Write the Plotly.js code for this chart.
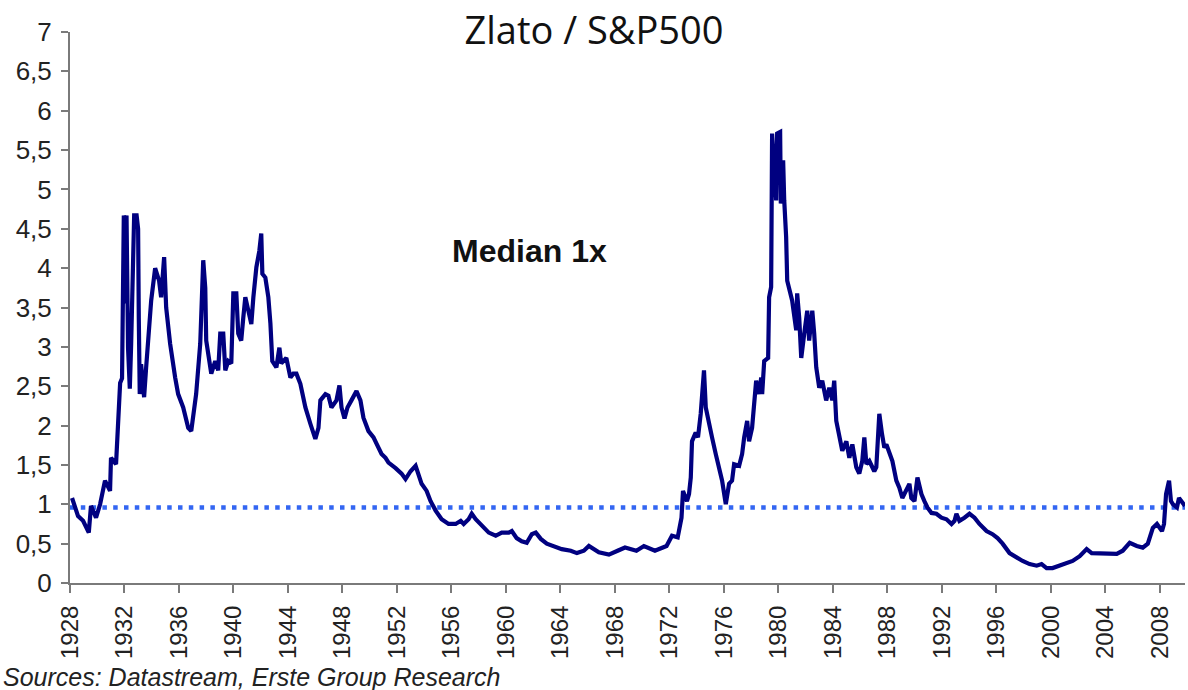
<!DOCTYPE html>
<html>
<head>
<meta charset="utf-8">
<script src="https://cdn.plot.ly/plotly-3.0.1.min.js"></script>
<style>
html,body{margin:0;padding:0;background:#fff;}
#chart{width:1188px;height:690px;}
</style>
</head>
<body>
<div id="chart"></div>
<script>
// Gold / S&P500 ratio
const years = [
1928.15,1928.59,1928.96,1929.38,1929.54,1929.91,1930.21,1930.57,1930.94,1931.01,
1931.38,1931.53,1931.68,1931.82,1931.95,1932.04,1932.15,1932.26,1932.39,1932.49,
1932.71,1932.89,1933.0,1933.05,1933.12,1933.22,1933.44,1933.59,1933.74,1933.96,
1934.25,1934.54,1934.69,1934.91,1935.06,1935.35,1935.72,1935.94,1936.31,1936.68,
1936.9,1937.12,1937.26,1937.56,1937.63,1937.78,1937.93,1938.0,1938.37,1938.66,
1938.88,1939.03,1939.25,1939.4,1939.62,1939.84,1939.99,1940.21,1940.35,1940.57,
1940.72,1940.87,1941.09,1941.31,1941.46,1941.68,1941.9,1942.04,1942.12,1942.34,
1942.56,1942.71,1942.85,1943.15,1943.37,1943.51,1943.88,1944.18,1944.4,1944.62,
1944.91,1945.28,1945.65,1946.01,1946.24,1946.38,1946.75,1946.97,1947.19,1947.56,
1947.78,1947.93,1948.15,1948.37,1948.66,1949.03,1949.32,1949.54,1949.91,1950.28,
1950.5,1950.87,1951.16,1951.38,1951.9,1952.34,1952.63,1953.0,1953.37,1953.59,
1953.81,1954.18,1954.47,1954.84,1955.28,1955.79,1956.31,1956.68,1956.9,1957.26,
1957.49,1957.78,1958.22,1958.74,1959.25,1959.69,1960.21,1960.43,1960.79,1961.16,
1961.53,1961.9,1962.19,1962.56,1963.0,1963.66,1964.1,1964.76,1965.21,1965.72,
1966.09,1966.82,1967.56,1968.2,1968.74,1969.58,1970.13,1970.94,1971.79,1972.19,
1972.61,1972.89,1973.0,1973.29,1973.44,1973.57,1973.66,1973.93,1974.1,1974.3,
1974.54,1974.67,1974.91,1975.13,1975.4,1975.65,1975.87,1976.14,1976.38,1976.6,
1976.75,1977.12,1977.34,1977.49,1977.71,1977.85,1978.07,1978.37,1978.59,1978.74,
1978.81,1978.96,1979.25,1979.32,1979.47,1979.54,1979.69,1979.84,1979.91,1980.13,
1980.18,1980.35,1980.43,1980.57,1980.65,1980.79,1981.01,1981.31,1981.38,1981.53,
1981.68,1981.9,1982.12,1982.26,1982.49,1982.63,1982.78,1983.0,1983.22,1983.51,
1983.74,1983.96,1984.1,1984.25,1984.47,1984.69,1984.99,1985.21,1985.43,1985.72,
1985.94,1986.16,1986.31,1986.46,1986.68,1987.04,1987.19,1987.41,1987.61,1987.78,
1987.93,1988.15,1988.37,1988.66,1988.88,1989.1,1989.4,1989.62,1989.76,1989.99,
1990.21,1990.5,1990.72,1990.94,1991.24,1991.6,1991.97,1992.34,1992.71,1992.93,
1993.07,1993.29,1993.66,1994.03,1994.4,1994.76,1995.28,1995.72,1996.09,1996.46,
1996.97,1997.49,1997.93,1998.44,1998.96,1999.32,1999.69,2000.13,2000.65,2001.16,
2001.6,2002.12,2002.63,2003.0,2003.37,2003.81,2004.32,2004.84,2005.28,2005.79,
2006.31,2006.75,2007.12,2007.49,2007.79,2008.16,2008.31,2008.46,2008.68,2008.82,
2008.97,2009.26,2009.41,2009.71,2009.85
];
const ratio = [
1.08,0.85,0.79,0.64,0.98,0.83,1.0,1.3,1.17,1.59,
1.51,2.15,2.54,2.6,4.67,3.55,4.67,2.99,2.47,3.04,
4.67,4.67,4.5,3.37,2.4,2.78,2.36,2.74,3.12,3.59,
4.0,3.84,3.63,4.14,3.5,3.04,2.61,2.4,2.23,1.97,
1.93,2.28,2.4,3.04,3.33,4.1,3.75,3.08,2.66,2.82,
2.7,3.17,3.17,2.7,2.82,2.79,3.68,3.68,3.17,3.08,
3.37,3.63,3.46,3.29,3.63,4.01,4.22,4.44,3.93,3.88,
3.63,3.3,2.82,2.74,2.99,2.79,2.86,2.61,2.66,2.66,
2.53,2.23,2.02,1.83,1.97,2.32,2.4,2.38,2.23,2.32,
2.51,2.23,2.09,2.23,2.32,2.44,2.32,2.1,1.93,1.85,
1.77,1.64,1.59,1.53,1.46,1.39,1.32,1.42,1.49,1.39,
1.26,1.17,1.04,0.92,0.81,0.75,0.75,0.79,0.75,0.81,
0.88,0.81,0.73,0.64,0.6,0.64,0.64,0.66,0.57,0.53,
0.51,0.62,0.64,0.56,0.5,0.45,0.43,0.41,0.38,0.41,
0.47,0.39,0.36,0.41,0.45,0.41,0.47,0.41,0.47,0.6,
0.58,0.83,1.17,1.04,1.13,1.34,1.8,1.91,1.85,2.15,
2.7,2.23,2.06,1.85,1.64,1.47,1.3,1.0,1.26,1.3,
1.51,1.49,1.64,1.85,2.06,1.8,1.97,2.57,2.4,2.61,
2.4,2.82,2.86,3.63,3.76,5.71,5.2,4.86,5.71,5.73,
4.82,5.37,4.86,4.4,3.84,3.76,3.59,3.21,3.68,3.37,
2.86,3.17,3.46,3.08,3.46,3.17,2.74,2.48,2.57,2.32,
2.48,2.32,2.57,2.06,1.89,1.68,1.8,1.59,1.76,1.47,
1.39,1.55,1.85,1.51,1.55,1.42,1.47,2.15,1.89,1.72,
1.76,1.64,1.55,1.3,1.21,1.08,1.17,1.26,1.08,1.04,
1.34,1.13,1.04,0.96,0.89,0.88,0.83,0.81,0.75,0.79,
0.88,0.79,0.83,0.88,0.83,0.75,0.66,0.62,0.57,0.5,
0.38,0.32,0.28,0.24,0.22,0.24,0.19,0.19,0.22,0.25,
0.28,0.34,0.43,0.38,0.38,0.37,0.38,0.37,0.41,0.51,
0.47,0.45,0.5,0.7,0.75,0.66,0.75,1.13,1.3,1.04,
1.0,0.96,1.08,1.0,0.98
];
const medianValue = 0.96;
const xRange = [1928, 2009.85];
const yTickVals = [0,0.5,1,1.5,2,2.5,3,3.5,4,4.5,5,5.5,6,6.5,7];
const yTickText = ["0","0,5","1","1,5","2","2,5","3","3,5","4","4,5","5","5,5","6","6,5","7"];
const xTickVals = [1928,1932,1936,1940,1944,1948,1952,1956,1960,1964,1968,1972,1976,1980,1984,1988,1992,1996,2000,2004,2008];
const xTickText = xTickVals.map(String);

const traces = [
  {
    x: xRange, y: [medianValue, medianValue],
    type: 'scatter', mode: 'lines',
    line: {color: '#3366f2', width: 4.5, dash: '4.5px,6.3px'},
    hoverinfo: 'skip', showlegend: false
  },
  {
    x: years, y: ratio,
    type: 'scatter', mode: 'lines',
    line: {color: '#000080', width: 4.2},
    showlegend: false
  }
];

const fam = 'Liberation Sans, Arial, sans-serif';

const layout = {
  width: 1188, height: 690,
  margin: {l: 70, r: 3, t: 32, b: 107},
  paper_bgcolor: '#fff', plot_bgcolor: '#fff',
  showlegend: false,
  title: {
    text: 'Zlato / S&P500',
    font: {family: 'Open Sans, sans-serif', size: 38, color: '#111'},
    x: 0.5, xref: 'container', xanchor: 'center',
    y: 1 - 31/690, yref: 'container', yanchor: 'middle'
  },
  xaxis: {
    range: xRange, tickmode: 'array', tickvals: xTickVals, ticktext: xTickText,
    tickangle: -90, ticks: 'outside', ticklen: 8, tickwidth: 2, tickcolor: '#7a7a7a',
    showline: true, linecolor: '#7a7a7a', linewidth: 2,
    showgrid: false, zeroline: false,
    tickfont: {family: fam, size: 24, color: '#222'}, ticklabelstandoff: 3
  },
  yaxis: {
    range: [0, 7], tickmode: 'array', tickvals: yTickVals, ticktext: yTickText,
    ticks: 'outside', ticklen: 7, tickwidth: 2, tickcolor: '#7a7a7a',
    showline: true, linecolor: '#7a7a7a', linewidth: 2,
    showgrid: false, zeroline: false,
    tickfont: {family: fam, size: 26, color: '#222'}, ticklabelstandoff: 4
  },
  annotations: [
    {
      text: '<b>Median 1x</b>', x: 1961.7, y: 4.22, xref: 'x', yref: 'y',
      showarrow: false, xanchor: 'center', yanchor: 'middle',
      font: {family: fam, size: 32, color: '#111'}
    },
    {
      text: '<i>Sources: Datastream, Erste Group Research</i>',
      x: -69/1115, y: (583-677)/551, xref: 'paper', yref: 'paper',
      showarrow: false, xanchor: 'left', yanchor: 'middle',
      font: {family: fam, size: 25, color: '#222'}
    }
  ]
};

Plotly.newPlot('chart', traces, layout, {displayModeBar: false, staticPlot: true});
</script>
</body>
</html>
